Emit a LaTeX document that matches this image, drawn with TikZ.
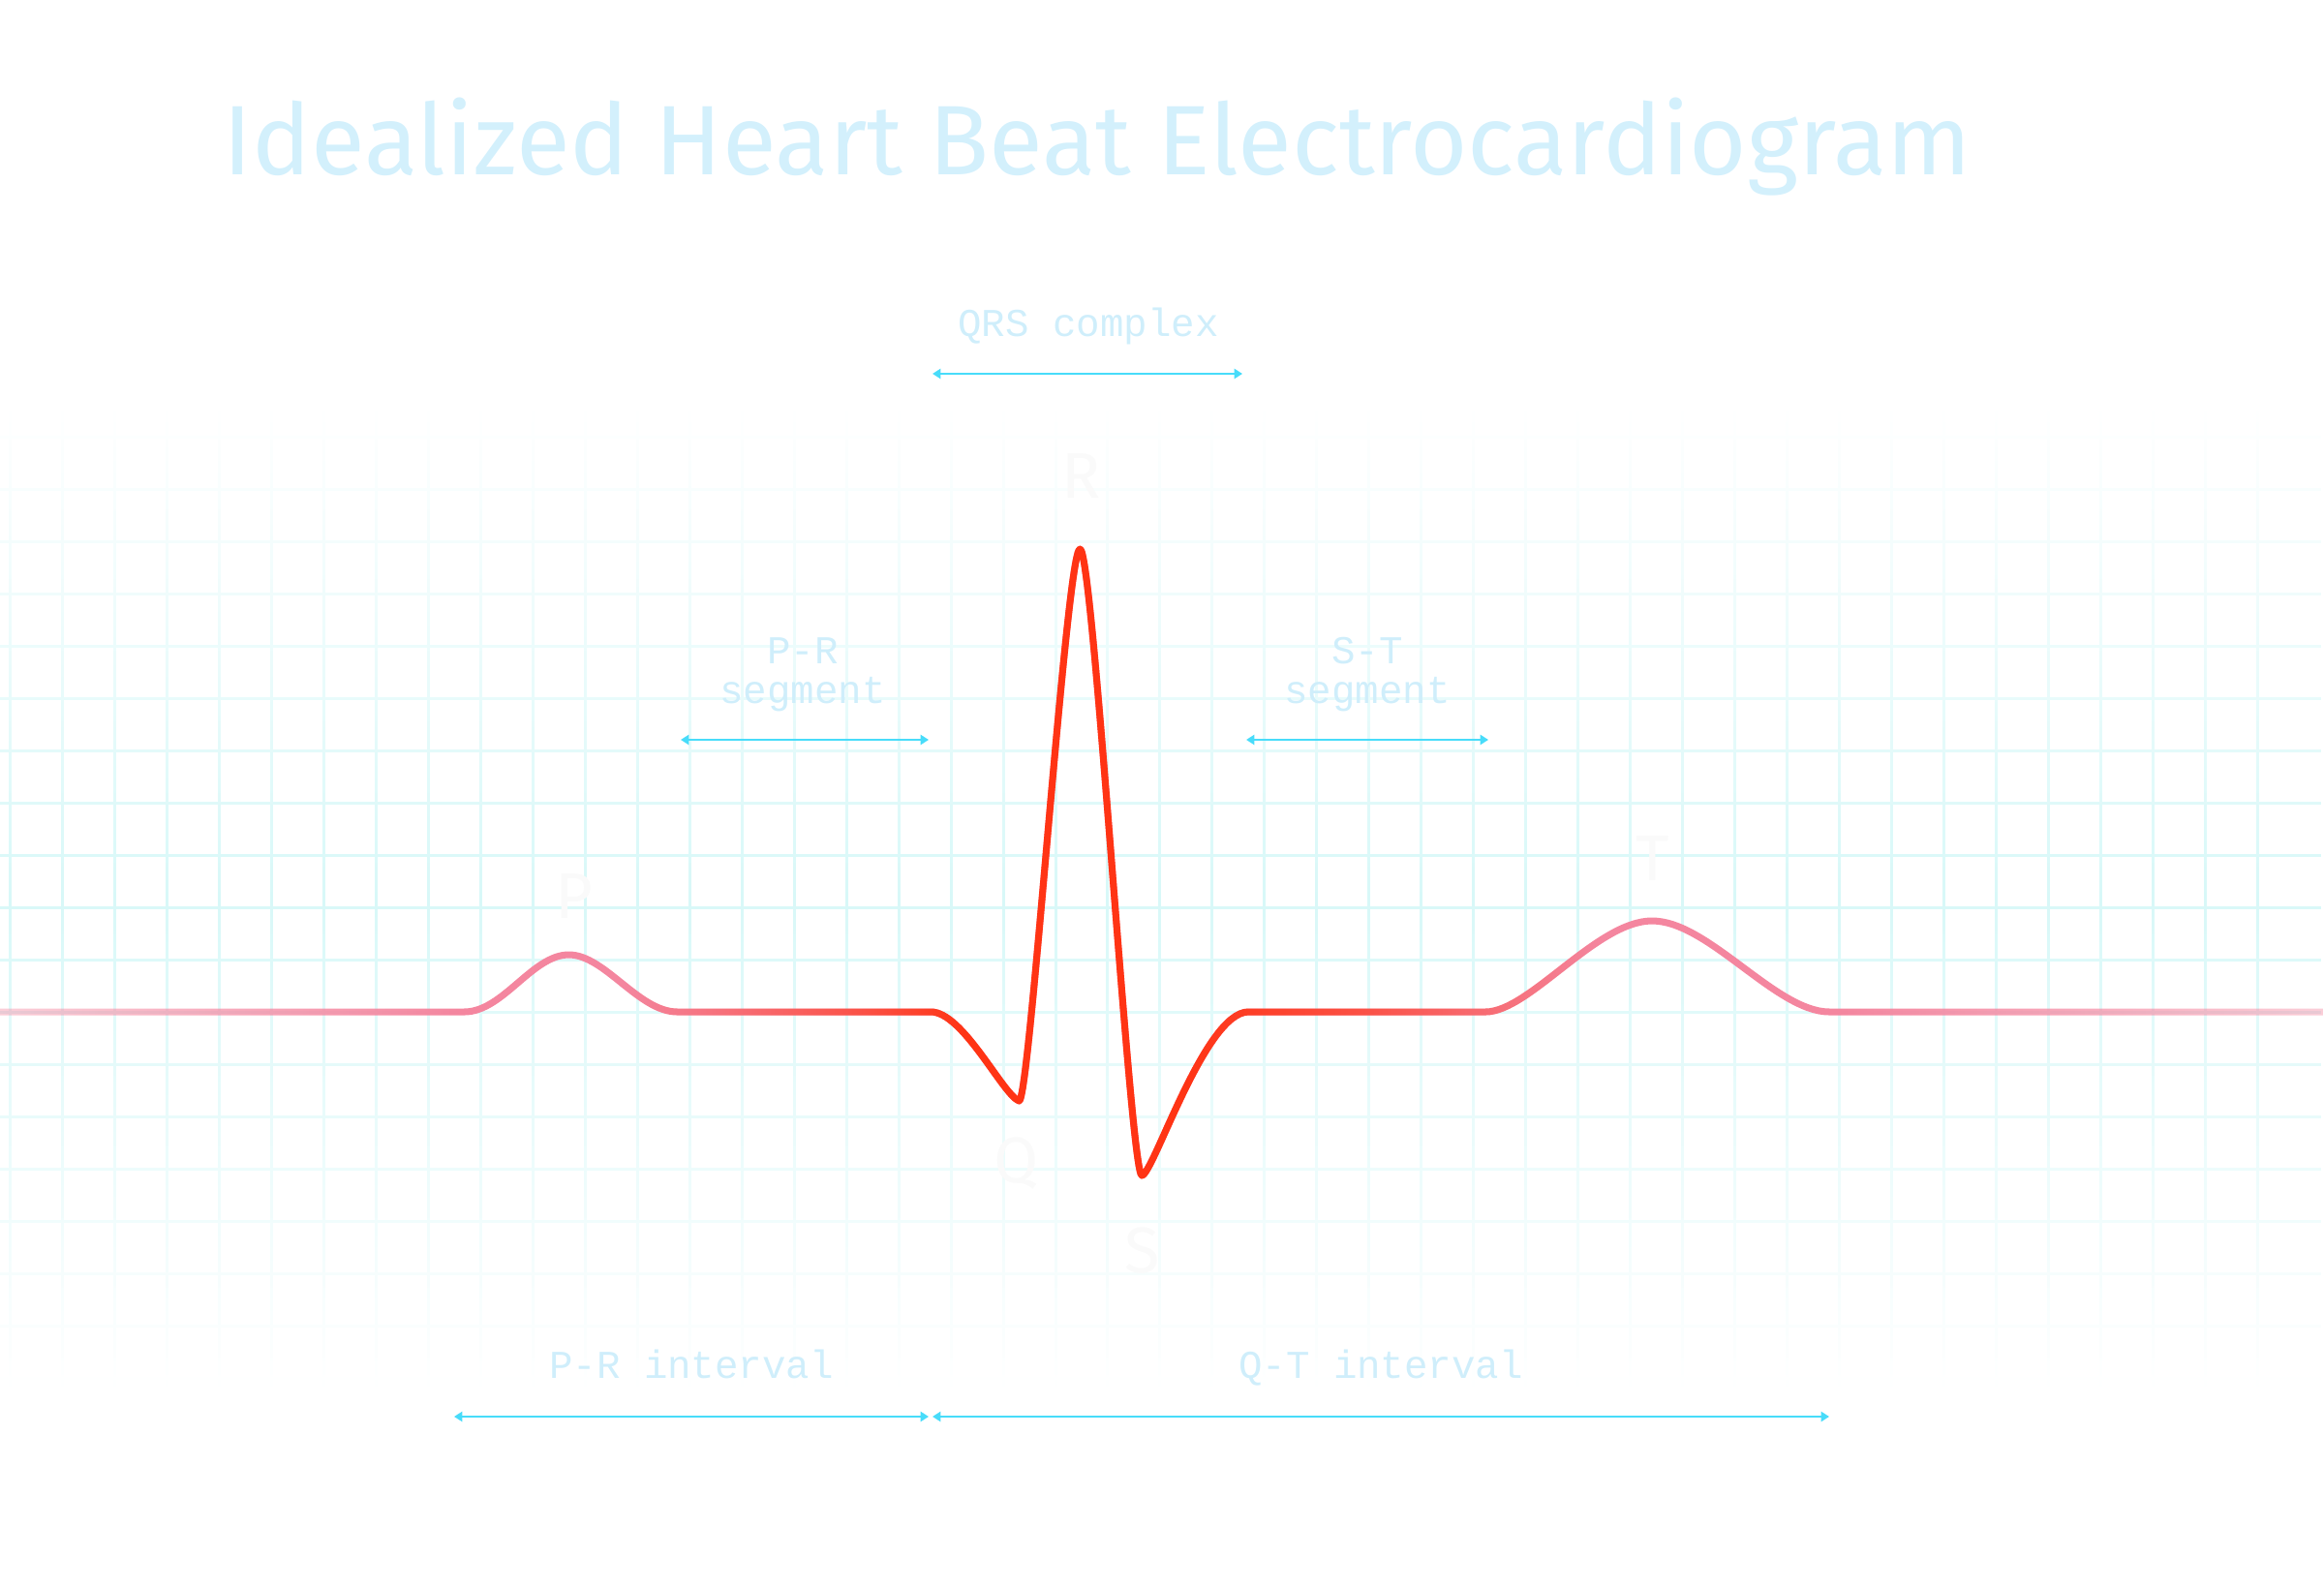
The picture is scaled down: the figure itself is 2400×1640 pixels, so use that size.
\documentclass[tikz,border=0pt]{standalone}
\usepackage{fontspec}
\usetikzlibrary{arrows.meta,fadings}
\newfontfamily\titlefont{Fira Sans}
\newfontfamily\monofont{Liberation Mono}
\definecolor{gridcyan}{HTML}{D8F8F8}
\definecolor{labelblue}{HTML}{CFEEFB}
\definecolor{titleblue}{HTML}{D3F0FC}
\definecolor{spancyan}{HTML}{48DCFA}
\definecolor{wavepink}{HTML}{F4869F}
\definecolor{wavered}{HTML}{FF3414}
\definecolor{ghost}{HTML}{FAFAFA}

% stops: 25bp = left end, 75bp = right end
\pgfdeclarehorizontalshading{qrsshade}{100bp}{color(0bp)=(transparent!100); color(38.5bp)=(transparent!100); color(43.7bp)=(transparent!35); color(45.8bp)=(transparent!0); color(50.4bp)=(transparent!0); color(54.2bp)=(transparent!35); color(59.4bp)=(transparent!100); color(100bp)=(transparent!100)}
\tikzfading[name=qrsfade, shading=qrsshade]
\pgfdeclarehorizontalshading{edgeshade}{100bp}{color(0bp)=(transparent!60); color(25bp)=(transparent!60); color(35bp)=(transparent!0); color(64.4bp)=(transparent!0); color(75bp)=(transparent!60); color(100bp)=(transparent!60)}
\tikzfading[name=edgefade, shading=edgeshade]
\tikzfading[name=gridfade, top color=transparent!100, bottom color=transparent!100, middle color=transparent!0]

\newcommand{\ecgtrace}{(0,1045) -- (480,1045)
  .. controls (520,1045) and (550,986) .. (588,986)
  .. controls (625,986) and (660,1045) .. (700,1045)
  -- (962,1045)
  .. controls (995,1045) and (1036,1130) .. (1053,1137)
  .. controls (1064,1141) and (1102,567) .. (1116,567)
  .. controls (1130,567) and (1168,1216) .. (1180,1214)
  .. controls (1192,1212) and (1245,1045) .. (1290,1045)
  -- (1535,1045)
  .. controls (1580,1045) and (1650,951) .. (1707,951)
  .. controls (1765,951) and (1835,1045) .. (1890,1045)
  -- (2400,1045)}

\begin{document}
\begin{tikzpicture}[x=0.01cm, y=-0.01cm,
  gridline/.style={gridcyan, line width=0.85pt},
  trace/.style={line width=2pt, line join=round},
  span/.style={spancyan, line width=0.7pt, {Triangle[length=2.4pt,width=2.9pt]}-{Triangle[length=2.4pt,width=2.9pt]}},
  tag/.style={labelblue, font=\monofont\fontsize{11.6}{11.9}\selectfont, inner sep=0pt, align=center},
  wavename/.style={ghost, font=\titlefont\fontsize{19}{19}\selectfont, inner sep=0pt, anchor=base}]
	\useasboundingbox (0,0) rectangle (2400,1640);
	%\draw[help lines] (0,0) grid (2400,1640);
	\draw[gridline, path fading=gridfade] \foreach \i in {0,...,43} {(11.7+54*\i,420) -- (11.7+54*\i,1435)} \foreach \j in {-11,...,7} {(0,1045+54*\j) -- (2400,1045+54*\j)};

	\node[titleblue, font=\titlefont\fontsize{29}{29}\selectfont, anchor=base west, inner sep=0pt] (title) at (230,181) {Idealized Heart Beat Electrocardiogram};

	\node[wavename] (p) at (593,948) {P};
	\node[wavename] (q) at (1050,1221) {Q};
	\node[wavename] (r) at (1117,515) {R};
	\node[wavename] (s) at (1180,1314) {S};
	\node[wavename] (t) at (1707,909) {T};

	\draw[trace, wavepink, path fading=edgefade] \ecgtrace;
	\draw[trace, wavered, path fading=qrsfade] \ecgtrace;

	\coordinate (qrsL) at (963,386);
	\coordinate (qrsR) at (1283,386);
	\coordinate (prsegL) at (703,764);
	\coordinate (prsegR) at (959,764);
	\coordinate (stsegL) at (1287,764);
	\coordinate (stsegR) at (1537,764);
	\coordinate (printL) at (469,1463);
	\coordinate (printR) at (959,1463);
	\coordinate (qtintL) at (963,1463);
	\coordinate (qtintR) at (1889,1463);

	\draw[span] (qrsL) -- (qrsR);
	\draw[span] (prsegL) -- (prsegR);
	\draw[span] (stsegL) -- (stsegR);
	\draw[span] (printL) -- (printR);
	\draw[span] (qtintL) -- (qtintR);

	\node[tag, anchor=base] (qrs) at (1124,348) {QRS complex};
	\node[tag, anchor=south] (prseg) at (829,736) {P-R\\segment};
	\node[tag, anchor=south] (stseg) at (1412,736) {S-T\\segment};
	\node[tag, anchor=base] (print) at (714,1423) {P-R interval};
	\node[tag, anchor=base] (qtint) at (1426,1423) {Q-T interval};
\end{tikzpicture}
\end{document}
